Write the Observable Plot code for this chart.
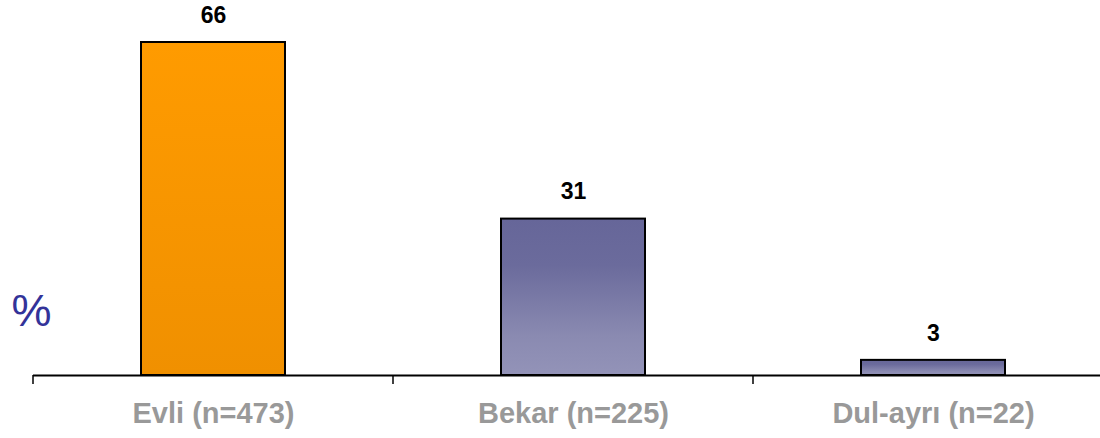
<!DOCTYPE html>
<html>
<head>
<meta charset="utf-8">
<script src="https://cdn.jsdelivr.net/npm/d3@7"></script>
<script src="https://cdn.jsdelivr.net/npm/@observablehq/plot@0.6"></script>
<style>
  html, body { margin: 0; padding: 0; background: #fff; }
  #chart svg { display: block; }
</style>
</head>
<body>
<div id="chart"></div>
<script>
const categories = ["Evli (n=473)", "Bekar (n=225)", "Dul-ayrı (n=22)"];
const values = [66, 31, 3];
const fills = ["url(#gOrange)", "url(#gPurple)", "url(#gPurple)"];
const unitLabel = "%";

const data = categories.map((c, i) => ({cat: c, value: values[i], fill: fills[i]}));

const W = 1100, H = 438;
const xRange = [33, 1113];

const defsMark = () => {
  const defs = d3.create("svg:defs");
  const o = defs.append("linearGradient").attr("id", "gOrange")
    .attr("x1", 0).attr("y1", 0).attr("x2", 0).attr("y2", 1);
  o.append("stop").attr("offset", "0%").attr("stop-color", "#FF9B00");
  o.append("stop").attr("offset", "100%").attr("stop-color", "#F09000");
  const p = defs.append("linearGradient").attr("id", "gPurple")
    .attr("x1", 0).attr("y1", 0).attr("x2", 0).attr("y2", 1);
  p.append("stop").attr("offset", "0%").attr("stop-color", "#666699");
  p.append("stop").attr("offset", "30%").attr("stop-color", "#6B6B9C");
  p.append("stop").attr("offset", "75%").attr("stop-color", "#8A8AB1");
  p.append("stop").attr("offset", "100%").attr("stop-color", "#9393B8");
  return defs.node();
};

const ticksMark = (index, scales) => {
  const g = d3.create("svg:g");
  const step = (xRange[1] - xRange[0]) / categories.length;
  const y0 = scales.y(0);
  categories.forEach(c => {
    const xe = scales.x(c) + scales.x.bandwidth() / 2 - step / 2;
    g.append("line").attr("x1", xe).attr("x2", xe).attr("y1", y0).attr("y2", y0 + 9)
      .attr("stroke", "#000").attr("stroke-width", 1.5);
  });
  return g.node();
};

const chart = Plot.plot({
  width: W,
  height: H,
  marginLeft: 33,
  marginRight: 0,
  marginTop: 42,
  marginBottom: 63,
  x: {domain: categories, range: xRange, paddingInner: 0.6, paddingOuter: 0.3, align: 0.5, axis: null},
  y: {domain: [0, 66], axis: null},
  style: {fontFamily: "Arial, 'Liberation Sans', sans-serif", background: "#fff"},
  marks: [
    defsMark,
    Plot.barY(data, {x: "cat", y: "value", fill: "fill", stroke: "#000", strokeWidth: 2}),
    Plot.ruleY([0], {stroke: "#000", strokeWidth: 2}),
    ticksMark,
    Plot.text(data, {x: "cat", y: "value", text: d => String(d.value), dy: -27,
      lineAnchor: "middle", fontSize: 23, fontWeight: "bold", fill: "#000"}),
    Plot.text(data, {x: "cat", frameAnchor: "bottom", text: "cat", dy: 38,
      lineAnchor: "middle", fontSize: 29, fontWeight: "bold", fill: "#999999"}),
    Plot.text([unitLabel], {frameAnchor: "bottom-left", text: d => d, dx: -2, dy: -64,
      textAnchor: "middle", lineAnchor: "middle", fontSize: 45, fill: "#333399"})
  ]
});
document.getElementById("chart").append(chart);
</script>
</body>
</html>
